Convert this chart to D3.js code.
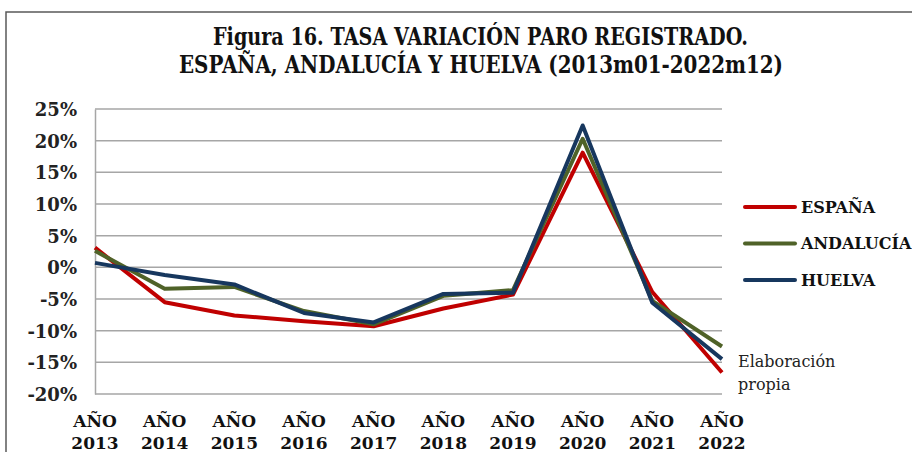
<!DOCTYPE html>
<html>
<head>
<meta charset="utf-8">
<script src="https://cdn.jsdelivr.net/npm/d3@7"></script>
<style>
  body { margin: 0; background: #fff; }
  text { font-family: "DejaVu Serif", serif; }
</style>
</head>
<body>
<div id="chart"></div>
<script>
// data
var years = ["2013", "2014", "2015", "2016", "2017", "2018", "2019", "2020", "2021", "2022"];
var espana    = [3.1, -5.5, -7.6, -8.5, -9.3, -6.5, -4.3, 18.1, -3.9, -16.6];
var andalucia = [2.6, -3.4, -3.1, -6.9, -9.0, -4.5, -3.6, 20.3, -5.3, -12.5];
var huelva    = [0.7, -1.2, -2.7, -7.2, -8.7, -4.2, -4.0, 22.4, -5.6, -14.5];
var yTicks = [25, 20, 15, 10, 5, 0, -5, -10, -15, -20];

var series = [
    { name: "ESPAÑA", values: espana, color: "#C00000" },
    { name: "ANDALUCÍA", values: andalucia, color: "#4F6228" },
    { name: "HUELVA", values: huelva, color: "#17375E" }
];

drawChart();

function drawChart() {
    var w = 912, h = 452;
    var plot = { left: 95, right: 722, top: 109, bottom: 394 };

    var svg = d3.select("#chart")
                .append("svg")
                .attr("width", w)
                .attr("height", h);

    // outer frame
    svg.append("path")
       .attr("d", "M6,460 V12 H912")
       .attr("fill", "none")
       .attr("stroke", "#595959")
       .attr("stroke-width", 1.5);

    // title
    var title = svg.append("text")
       .attr("font-family", "'Liberation Serif', serif")
       .attr("font-weight", "bold")
       .attr("font-size", 24)
       .attr("fill", "#111");
    title.append("tspan").attr("x", 213).attr("y", 45)
         .attr("textLength", 535).attr("lengthAdjust", "spacingAndGlyphs")
         .text("Figura 16. TASA VARIACIÓN PARO REGISTRADO.");
    title.append("tspan").attr("x", 179).attr("y", 73)
         .attr("textLength", 604).attr("lengthAdjust", "spacingAndGlyphs")
         .text("ESPAÑA, ANDALUCÍA Y HUELVA (2013m01-2022m12)");

    var x = d3.scalePoint().domain(years).range([plot.left, plot.right]);
    var y = d3.scaleLinear().domain([-20, 25]).range([plot.bottom, plot.top]);

    // gridlines
    svg.append("g")
       .selectAll("line")
       .data(yTicks)
       .enter()
       .append("line")
       .attr("x1", plot.left)
       .attr("x2", plot.right)
       .attr("y1", function (d) { return y(d); })
       .attr("y2", function (d) { return y(d); })
       .attr("stroke", "#A6A6A6")
       .attr("stroke-width", 1.5);

    // y axis
    var yAxis = svg.append("g")
       .attr("transform", "translate(" + plot.left + ",0)")
       .call(d3.axisLeft(y).tickValues(yTicks).tickSize(0).tickPadding(18)
               .tickFormat(function (d) { return d + "%"; }));
    yAxis.select(".domain").attr("stroke", "#A6A6A6").attr("stroke-width", 1.5);
    yAxis.selectAll("text")
         .attr("font-family", "'DejaVu Serif', serif")
         .attr("font-size", 18)
         .attr("font-weight", "bold")
         .attr("fill", "#222")
         .attr("dy", "0.36em");

    // x axis labels
    var xl = svg.append("g")
       .selectAll("text")
       .data(years)
       .enter()
       .append("text")
       .attr("text-anchor", "middle")
       .attr("font-size", 17)
       .attr("font-weight", "bold")
       .attr("fill", "#111");
    xl.append("tspan")
      .attr("x", function (d) { return x(d); })
      .attr("y", 427)
      .text("AÑO");
    xl.append("tspan")
      .attr("x", function (d) { return x(d); })
      .attr("y", 449)
      .text(function (d) { return d; });

    // lines
    var line = d3.line()
       .x(function (d, i) { return x(years[i]); })
       .y(function (d) { return y(d); });

    svg.append("g")
       .selectAll("path")
       .data(series)
       .enter()
       .append("path")
       .attr("d", function (d) { return line(d.values); })
       .attr("fill", "none")
       .attr("stroke", function (d) { return d.color; })
       .attr("stroke-width", 4)
       .attr("stroke-linejoin", "round");

    // legend
    var legend = svg.append("g")
       .selectAll("g")
       .data(series)
       .enter()
       .append("g")
       .attr("transform", function (d, i) { return "translate(745," + (207 + i * 36.5) + ")"; });
    legend.append("line")
       .attr("x1", 0).attr("x2", 50)
       .attr("stroke", function (d) { return d.color; })
       .attr("stroke-width", 4)
       .attr("stroke-linecap", "round");
    legend.append("text")
       .attr("x", 56)
       .attr("dy", "0.36em")
       .attr("font-size", 16)
       .attr("font-weight", "bold")
       .attr("fill", "#111")
       .text(function (d) { return d.name; });

    // source note
    var note = svg.append("text")
       .attr("font-size", 16)
       .attr("fill", "#222");
    note.append("tspan").attr("x", 738).attr("y", 367).text("Elaboración");
    note.append("tspan").attr("x", 738).attr("y", 390).text("propia");
}
</script>
</body>
</html>
